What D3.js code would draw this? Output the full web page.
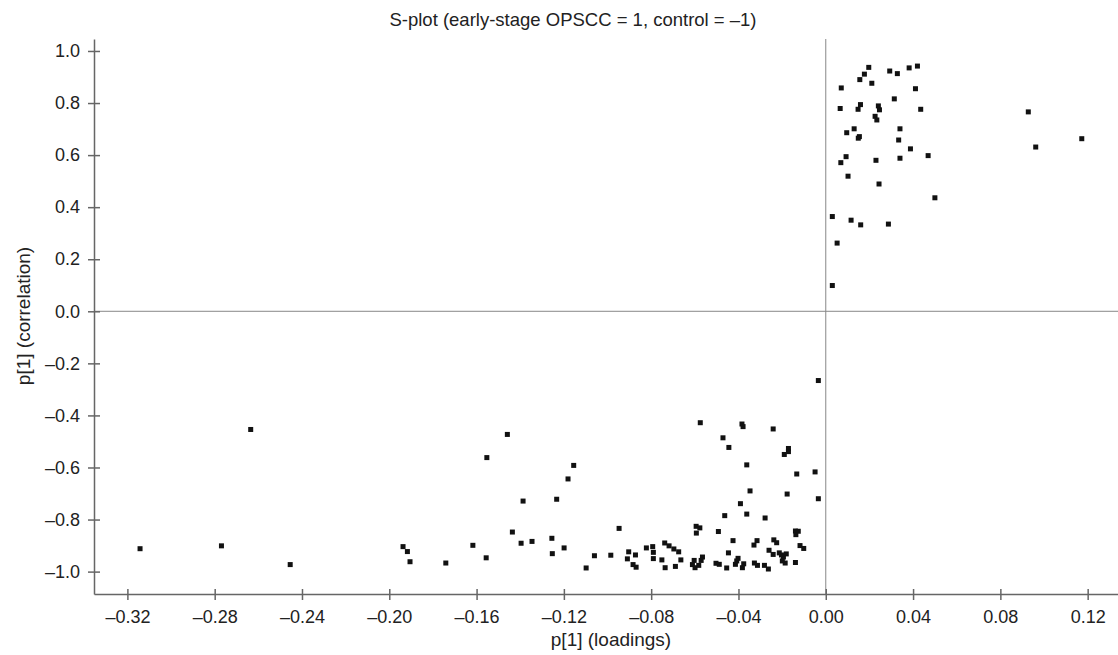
<!DOCTYPE html>
<html>
<head>
  <meta charset="utf-8">
  <script src="https://d3js.org/d3.v7.min.js"></script>
  <style>
    body { margin: 0; background: #fff; }
    text { font-family: "Liberation Sans", Arial, Helvetica, sans-serif; fill: #222; }
    .axis text { font-size: 18px; }
    .axis path, .axis line { stroke: #666; stroke-width: 1.5; }
    .title { font-size: 18.5px; }
    .axisLabel { font-size: 19px; }
  </style>
</head>
<body>
  <div id="chart"></div>
  <script>
    var width = 1118;
    var height = 655;
    var margin = {top: 39, left: 94, right: 0, bottom: 61};

    var loadings = [
      0.0197, 0.0293, 0.0328, 0.0382, 0.0420, 0.0177, 0.0156, 0.0211, 0.0071, 0.0411,
      0.0314, 0.0066, 0.0159, 0.0148, 0.0241, 0.0246, 0.0435, 0.0226, 0.0234, 0.0130,
      0.0096, 0.0340, 0.0154, 0.0149, 0.0334, 0.0388, 0.0093, 0.0069, 0.0230, 0.0340,
      0.0469, 0.0102, 0.0244, 0.0500, 0.0030, 0.0116, 0.0160, 0.0287, 0.0052, 0.0030,
      0.0928, 0.1173, 0.0962,
      -0.3142, -0.2769, -0.2635, -0.2454,
      -0.1937, -0.1917, -0.1905, -0.1741, -0.1617, -0.1556, -0.1553,
      -0.1459, -0.1155, -0.1181, -0.1387, -0.1233, -0.1436, -0.1396, -0.1346, -0.1255, -0.1253,
      -0.1199, -0.1098, -0.1060, -0.0985, -0.0947, -0.0903, -0.0909, -0.0872, -0.0883, -0.0869,
      -0.0822, -0.0793, -0.0790, -0.0790,
      -0.0738, -0.0718, -0.0696, -0.0674, -0.0751, -0.0736, -0.0689, -0.0664, -0.0575, -0.0594,
      -0.0577, -0.0593, -0.0565, -0.0571, -0.0603, -0.0611, -0.0599, -0.0582, -0.0503, -0.0488,
      -0.0454, -0.0492, -0.0471, -0.0444, -0.0463, -0.0425, -0.0446, -0.0384, -0.0379, -0.0362,
      -0.0347, -0.0391, -0.0362, -0.0402, -0.0408, -0.0414, -0.0382, -0.0376, -0.0327, -0.0313,
      -0.0329, -0.0315, -0.0278, -0.0241, -0.0281, -0.0263, -0.0260, -0.0241, -0.0238, -0.0225,
      -0.0213, -0.0203, -0.0194, -0.0181, -0.0199, -0.0186, -0.0139, -0.0190, -0.0171, -0.0171,
      -0.0177, -0.0133, -0.0139, -0.0126, -0.0137, -0.0118, -0.0101, -0.0049, -0.0034, -0.0034
    ];
    var correlations = [
      0.937, 0.923, 0.913, 0.935, 0.942, 0.911, 0.890, 0.876, 0.858, 0.855,
      0.816, 0.779, 0.794, 0.776, 0.789, 0.774, 0.776, 0.749, 0.735, 0.701,
      0.686, 0.701, 0.671, 0.665, 0.658, 0.624, 0.594, 0.571, 0.580, 0.588,
      0.598, 0.519, 0.489, 0.436, 0.364, 0.350, 0.332, 0.335, 0.262, 0.099,
      0.766, 0.663, 0.631,
      -0.912, -0.901, -0.454, -0.973,
      -0.904, -0.923, -0.962, -0.967, -0.899, -0.947, -0.562,
      -0.473, -0.592, -0.644, -0.729, -0.722, -0.848, -0.891, -0.884, -0.872, -0.931,
      -0.909, -0.986, -0.939, -0.937, -0.834, -0.924, -0.951, -0.936, -0.973, -0.983,
      -0.909, -0.904, -0.926, -0.950,
      -0.890, -0.901, -0.913, -0.924, -0.955, -0.985, -0.980, -0.955, -0.428, -0.826,
      -0.832, -0.852, -0.944, -0.957, -0.957, -0.973, -0.985, -0.976, -0.968, -0.972,
      -0.986, -0.846, -0.486, -0.523, -0.785, -0.881, -0.928, -0.433, -0.443, -0.590,
      -0.690, -0.739, -0.779, -0.949, -0.959, -0.972, -0.985, -0.970, -0.967, -0.976,
      -0.898, -0.881, -0.794, -0.452, -0.976, -0.990, -0.918, -0.934, -0.878, -0.889,
      -0.928, -0.936, -0.944, -0.932, -0.959, -0.967, -0.965, -0.550, -0.527, -0.539,
      -0.702, -0.625, -0.844, -0.845, -0.858, -0.900, -0.911, -0.617, -0.720, -0.266
    ];
    var xTicks = [-0.32, -0.28, -0.24, -0.20, -0.16, -0.12, -0.08, -0.04, 0.00, 0.04, 0.08, 0.12];
    var yTicks = [1.0, 0.8, 0.6, 0.4, 0.2, 0.0, -0.2, -0.4, -0.6, -0.8, -1.0];

    var points = loadings.map(function(d, i) { return {p: d, corr: correlations[i]}; });

    var svg = d3.select("#chart")
      .append("svg")
      .attr("width", width)
      .attr("height", height);

    /* SCALES */
    var xScale = d3.scaleLinear()
      .domain([-0.3353, 0.1339])
      .range([margin.left, width - margin.right]);

    var yScale = d3.scaleLinear()
      .domain([-1.086, 1.046])
      .range([height - margin.bottom, margin.top]);

    // en dash for negatives, like the original figure
    var dash = function(digits) {
      return function(d) {
        var s = Math.abs(d).toFixed(digits);
        return (d < -1e-9 ? "\u2013" : "") + s;
      };
    };

    /* ZERO LINES */
    svg.append("line")
      .attr("x1", xScale(0)).attr("x2", xScale(0))
      .attr("y1", margin.top).attr("y2", height - margin.bottom)
      .attr("stroke", "#888").attr("stroke-width", 1);
    svg.append("line")
      .attr("x1", margin.left).attr("x2", width - margin.right)
      .attr("y1", yScale(0)).attr("y2", yScale(0))
      .attr("stroke", "#888").attr("stroke-width", 1);

    /* AXES */
    var xAxis = svg.append("g")
      .attr("class", "axis")
      .attr("transform", `translate(0, ${height - margin.bottom})`)
      .call(d3.axisBottom(xScale).tickValues(xTicks).tickSizeOuter(0).tickPadding(10).tickFormat(dash(2)));
    xAxis.selectAll(".tick line").attr("y1", -5).attr("y2", 6);

    var yAxis = svg.append("g")
      .attr("class", "axis")
      .attr("transform", `translate(${margin.left}, 0)`)
      .call(d3.axisLeft(yScale).tickValues(yTicks).tickSizeOuter(0).tickPadding(8).tickFormat(dash(1)));
    yAxis.selectAll(".tick line").attr("x1", -6).attr("x2", 6);

    /* POINTS */
    svg.selectAll("rect.pt")
      .data(points)
      .enter()
      .append("rect")
        .attr("class", "pt")
        .attr("x", function(d) { return xScale(d.p) - 2.5; })
        .attr("y", function(d) { return yScale(d.corr) - 2.5; })
        .attr("width", 5)
        .attr("height", 5)
        .attr("fill", "#111");

    /* TITLE AND AXIS LABELS */
    svg.append("text")
      .attr("class", "title")
      .attr("x", 573)
      .attr("y", 26)
      .attr("text-anchor", "middle")
      .text("S-plot (early-stage OPSCC = 1, control = \u20131)");

    svg.append("text")
      .attr("class", "axisLabel")
      .attr("x", 611)
      .attr("y", 646)
      .attr("text-anchor", "middle")
      .text("p[1] (loadings)");

    svg.append("text")
      .attr("class", "axisLabel")
      .attr("transform", "rotate(-90)")
      .attr("x", -316)
      .attr("y", 30)
      .attr("text-anchor", "middle")
      .text("p[1] (correlation)");
  </script>
</body>
</html>
